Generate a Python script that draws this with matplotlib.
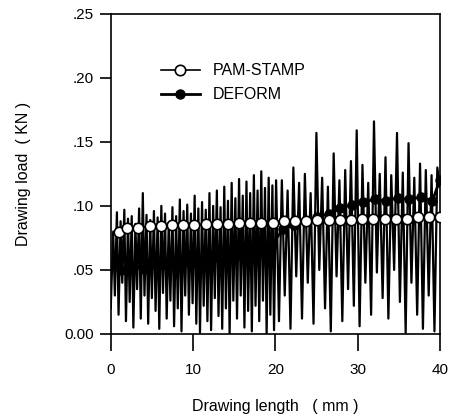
import matplotlib
matplotlib.use("Agg")
import matplotlib.pyplot as plt

plt.rcParams['font.family'] = ['Liberation Sans', 'DejaVu Sans']

# Raw oscillating load trace
noise_x = [0.0,0.3,0.5,0.75,0.95,1.2,1.4,1.65,1.85,2.1,
           2.3,2.55,2.75,3.0,3.2,3.45,3.65,3.9,4.1,4.35,
           4.55,4.8,5.0,5.25,5.45,5.7,5.9,6.15,6.35,6.6,
           6.8,7.05,7.25,7.5,7.7,7.95,8.15,8.4,8.6,8.85,
           9.05,9.3,9.5,9.75,9.95,10.2,10.4,10.65,10.85,11.1,
           11.3,11.55,11.75,12.0,12.2,12.45,12.65,12.9,13.1,13.35,
           13.55,13.8,14.0,14.25,14.45,14.7,14.9,15.15,15.35,15.6,
           15.8,16.05,16.25,16.5,16.7,16.95,17.15,17.4,17.6,17.85,
           18.05,18.3,18.5,18.75,18.95,19.2,19.4,19.65,19.85,20.1,
           20.45,20.8,21.15,21.5,21.85,22.2,22.55,22.9,23.25,23.6,
           23.95,24.3,24.65,25.0,25.35,25.7,26.05,26.4,26.75,27.1,
           27.45,27.8,28.15,28.5,28.85,29.2,29.55,29.9,30.25,30.6,
           30.95,31.3,31.65,32.0,32.35,32.7,33.05,33.4,33.75,34.1,
           34.45,34.8,35.15,35.5,35.85,36.2,36.55,36.9,37.25,37.6,
           37.95,38.3,38.65,39.0,39.35,39.7,40.0]
noise_y = [0.020,0.080,0.030,0.095,0.015,0.088,0.040,0.097,0.010,0.090,
           0.025,0.092,0.005,0.086,0.035,0.098,0.012,0.110,0.030,0.093,
           0.008,0.089,0.028,0.096,0.018,0.091,0.004,0.100,0.032,0.094,
           0.012,0.087,0.026,0.099,0.006,0.092,0.020,0.105,0.002,0.096,
           0.030,0.101,0.015,0.094,0.024,0.108,0.008,0.098,0.001,0.103,
           0.022,0.097,0.010,0.110,0.003,0.100,0.028,0.112,0.014,0.099,
           0.004,0.115,0.020,0.104,0.000,0.118,0.026,0.106,0.012,0.121,
           0.030,0.108,0.005,0.119,0.018,0.110,0.002,0.124,0.022,0.112,
           0.010,0.127,0.026,0.114,0.000,0.122,0.015,0.116,0.003,0.120,
           0.010,0.120,0.030,0.112,0.004,0.130,0.045,0.118,0.012,0.125,
           0.040,0.110,0.008,0.157,0.050,0.122,0.020,0.115,0.002,0.141,
           0.045,0.120,0.010,0.128,0.035,0.135,0.022,0.159,0.006,0.132,
           0.040,0.118,0.015,0.166,0.048,0.125,0.028,0.138,0.012,0.124,
           0.050,0.157,0.025,0.126,0.001,0.149,0.040,0.122,0.015,0.133,
           0.004,0.128,0.030,0.124,0.002,0.130,0.115]

# PAM-STAMP (open circles)
pam_x = [1.0,2.0,3.36,4.72,6.08,7.44,8.8,10.16,11.52,12.88,14.24,15.6,16.96,
         18.32,19.68,21.04,22.4,23.76,25.12,26.48,27.84,29.2,30.56,31.92,
         33.28,34.64,36.0,37.36,38.72,40.08]
pam_y = [0.080,0.083,0.083,0.084,0.084,0.085,0.085,0.085,0.086,0.086,0.086,
         0.087,0.087,0.087,0.087,0.088,0.088,0.088,0.089,0.089,0.089,0.089,
         0.090,0.090,0.090,0.090,0.090,0.091,0.091,0.091]

# DEFORM (filled circles)
def_x = [1.3,2.7,4.1,5.5,6.9,8.3,9.7,11.1,12.5,13.9,15.3,16.7,18.1,19.5,
         20.9,22.3,23.7,25.1,26.5,27.9,29.3,30.7,32.1,33.5,34.9,36.3,37.7,
         39.1,40.0]
def_y = [0.050,0.052,0.051,0.054,0.053,0.056,0.055,0.058,0.060,0.059,0.062,
         0.064,0.066,0.068,0.082,0.085,0.088,0.091,0.094,0.098,0.101,0.103,
         0.105,0.104,0.106,0.105,0.107,0.104,0.120]

x_ticks = [0, 10, 20, 30, 40]
y_ticks = [0.0, 0.05, 0.10, 0.15, 0.20, 0.25]
y_tick_labels = ['0.00', '.05', '.10', '.15', '.20', '.25']

fig = plt.figure(figsize=(4.52, 4.19), dpi=100)
ax = fig.add_axes([0.245, 0.203, 0.728, 0.764])

ax.plot(noise_x, noise_y, color='black', lw=1.6, zorder=2)
ax.plot(def_x, def_y, color='black', lw=2.0, marker='o', ms=6.5,
        mfc='black', mec='black', zorder=3, label='DEFORM')
ax.plot(pam_x, pam_y, color='black', lw=1.2, marker='o', ms=7.5,
        mfc='white', mec='black', mew=1.2, zorder=4, label='PAM-STAMP')

ax.set_xlim(0, 40)
ax.set_ylim(0, 0.25)
ax.set_xticks(x_ticks)
ax.set_xticklabels([str(v) for v in x_ticks])
ax.set_yticks(y_ticks)
ax.set_yticklabels(y_tick_labels)
ax.tick_params(axis='y', direction='out', length=8, width=1.2, pad=4, labelsize=11)
ax.tick_params(axis='x', direction='out', length=12, width=1.2, pad=9, labelsize=11)
for s in ax.spines.values():
    s.set_linewidth(1.2)

ax.set_xlabel('Drawing length   ( mm )', fontsize=11.5, labelpad=16)
ax.set_ylabel('Drawing load  ( KN )', fontsize=11.5, labelpad=24)

handles, labels = ax.get_legend_handles_labels()
ax.legend(handles[::-1], labels[::-1], loc='upper left',
          bbox_to_anchor=(0.11, 0.89), frameon=False, fontsize=11.5,
          handlelength=2.4, handletextpad=0.8, labelspacing=0.55)

fig.savefig('out.png', dpi=100)
